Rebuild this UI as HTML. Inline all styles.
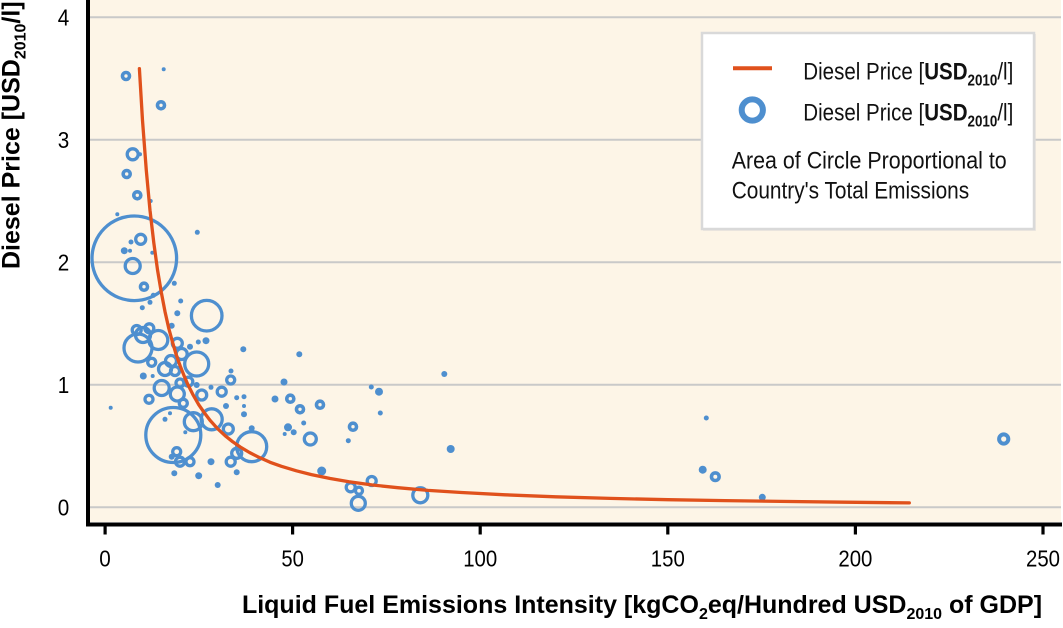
<!DOCTYPE html>
<html>
<head>
<meta charset="utf-8">
<style>
  html,body{margin:0;padding:0;background:#ffffff;}
  svg{display:block;}
  text{font-family:"Liberation Sans", sans-serif;}
  .r{fill:none;stroke:#4e8fcf;stroke-width:3.3;}
  .dn{fill:none;stroke:#4e8fcf;stroke-width:3.6;}
  .d{fill:#4e8fcf;}
  .tk{font-size:23px;fill:#000;}
</style>
</head>
<body>
<svg width="1063" height="628" viewBox="0 0 1063 628" xmlns="http://www.w3.org/2000/svg">
  <rect x="90" y="0" width="971" height="522" fill="#fdf5e7"/>
  <g stroke="#c9c9c9" stroke-width="2">
    <line x1="90" y1="17.3" x2="1061" y2="17.3"/>
    <line x1="90" y1="139.8" x2="1061" y2="139.8"/>
    <line x1="90" y1="262.3" x2="1061" y2="262.3"/>
    <line x1="90" y1="384.8" x2="1061" y2="384.8"/>
    <line x1="90" y1="507.3" x2="1061" y2="507.3"/>
  </g>

  <g class="r">
    <circle cx="134.3" cy="258.3" r="42.3"/>
    <circle cx="173.3" cy="435" r="27.5"/>
    <circle cx="206.7" cy="315.7" r="15.3"/>
    <circle cx="251.7" cy="446.7" r="15"/>
    <circle cx="138" cy="348" r="14"/>
    <circle cx="196.7" cy="364" r="12"/>
    <circle cx="211.7" cy="419.3" r="10.5"/>
    <circle cx="158.3" cy="340" r="9.5"/>
    <circle cx="193.3" cy="421.7" r="9"/>
    <circle cx="143" cy="335" r="7.5"/>
    <circle cx="132.7" cy="266" r="7.5"/>
    <circle cx="161.7" cy="388" r="7.5"/>
    <circle cx="177.3" cy="394" r="7"/>
    <circle cx="165" cy="369" r="6.5"/>
    <circle cx="420.3" cy="495.3" r="7.5"/>
    <circle cx="358.3" cy="503.3" r="7"/>
    <circle cx="310.3" cy="439" r="6"/>
    <circle cx="132.7" cy="154.3" r="5.5"/>
    <circle cx="181.7" cy="354" r="5.5"/>
    <circle cx="171" cy="361" r="5.5"/>
    <circle cx="177.3" cy="343.3" r="5"/>
    <circle cx="140.7" cy="239.3" r="5"/>
    <circle cx="136.7" cy="330" r="4.5"/>
    <circle cx="149.3" cy="328.3" r="4.5"/>
    <circle cx="228.3" cy="429" r="5"/>
    <circle cx="236.7" cy="453.3" r="5"/>
    <circle cx="230.7" cy="461.7" r="4.5"/>
    <circle cx="201.7" cy="395" r="5"/>
    <circle cx="221.7" cy="391.7" r="4.5"/>
    <circle cx="188.3" cy="381.7" r="4.5"/>
    <circle cx="149" cy="399.3" r="4"/>
    <circle cx="151.7" cy="362.3" r="4"/>
    <circle cx="175" cy="371" r="4.5"/>
    <circle cx="183.3" cy="403.3" r="4"/>
    <circle cx="180" cy="383" r="4"/>
    <circle cx="176.7" cy="451.7" r="4"/>
    <circle cx="180" cy="461.7" r="4.5"/>
    <circle cx="190" cy="461.7" r="4"/>
    <circle cx="350.7" cy="487.3" r="4.5"/>
    <circle cx="359" cy="490.7" r="3.5"/>
    <circle cx="371.7" cy="481" r="4.5"/>
    <circle cx="230.7" cy="380" r="4"/>
  </g>
  <g class="dn">
    <circle cx="126" cy="76" r="3.5"/>
    <circle cx="161" cy="105.3" r="3.5"/>
    <circle cx="126.7" cy="174" r="3.5"/>
    <circle cx="137.3" cy="195.3" r="3.5"/>
    <circle cx="144" cy="286.7" r="3.5"/>
    <circle cx="290.3" cy="398.7" r="3.5"/>
    <circle cx="300" cy="409.3" r="3.5"/>
    <circle cx="320" cy="404.7" r="3.5"/>
    <circle cx="353" cy="426.7" r="3.5"/>
    <circle cx="715.3" cy="476.7" r="3.8"/>
    <circle cx="1003.7" cy="439" r="4.6" style="stroke-width:4"/>
  </g>
  <g class="d">
    <circle cx="163.7" cy="69.3" r="2"/>
    <circle cx="140" cy="154.3" r="2"/>
    <circle cx="150.7" cy="201" r="2"/>
    <circle cx="117.3" cy="214.3" r="2"/>
    <circle cx="197.3" cy="232.3" r="2.5"/>
    <circle cx="131" cy="242" r="2.5"/>
    <circle cx="124.3" cy="250.7" r="3.5"/>
    <circle cx="130" cy="250.7" r="2"/>
    <circle cx="152.3" cy="252.7" r="2"/>
    <circle cx="174.3" cy="283.3" r="2.5"/>
    <circle cx="153.3" cy="295.3" r="2.5"/>
    <circle cx="150" cy="302.3" r="2.5"/>
    <circle cx="142.3" cy="307.7" r="2.5"/>
    <circle cx="180.7" cy="301" r="2.5"/>
    <circle cx="177.3" cy="313.3" r="3"/>
    <circle cx="171.7" cy="325.7" r="3"/>
    <circle cx="198.3" cy="342" r="2.5"/>
    <circle cx="206" cy="340.7" r="3.5"/>
    <circle cx="190" cy="346.7" r="3"/>
    <circle cx="243.3" cy="349.3" r="3"/>
    <circle cx="143.3" cy="376" r="3.5"/>
    <circle cx="152.7" cy="376" r="2"/>
    <circle cx="196.7" cy="385" r="3"/>
    <circle cx="211" cy="387.3" r="2.5"/>
    <circle cx="231" cy="371" r="2.5"/>
    <circle cx="236.7" cy="397.7" r="2.5"/>
    <circle cx="244" cy="396.7" r="2.5"/>
    <circle cx="244" cy="406" r="2"/>
    <circle cx="244" cy="414.3" r="3"/>
    <circle cx="226" cy="406" r="3"/>
    <circle cx="110.7" cy="407.7" r="2"/>
    <circle cx="170" cy="413.3" r="2"/>
    <circle cx="165" cy="419.3" r="2.5"/>
    <circle cx="185.3" cy="432.3" r="2"/>
    <circle cx="251.7" cy="428.3" r="3"/>
    <circle cx="236.7" cy="472.3" r="3"/>
    <circle cx="211" cy="461.7" r="3.5"/>
    <circle cx="198.7" cy="475.7" r="3.5"/>
    <circle cx="217.7" cy="485" r="3"/>
    <circle cx="174.3" cy="473.3" r="3"/>
    <circle cx="171.7" cy="456.7" r="3"/>
    <circle cx="299.3" cy="354.3" r="3"/>
    <circle cx="444.3" cy="374" r="3"/>
    <circle cx="284" cy="382" r="3.5"/>
    <circle cx="371.3" cy="387" r="2.5"/>
    <circle cx="379" cy="391.7" r="4"/>
    <circle cx="275" cy="399" r="3.5"/>
    <circle cx="380.3" cy="413" r="2.5"/>
    <circle cx="288" cy="427.3" r="4"/>
    <circle cx="284.7" cy="434" r="2"/>
    <circle cx="293.7" cy="432.3" r="3"/>
    <circle cx="303.7" cy="423" r="2.5"/>
    <circle cx="348.3" cy="440.7" r="2.5"/>
    <circle cx="450.7" cy="449" r="4"/>
    <circle cx="321.7" cy="471" r="4.5"/>
    <circle cx="706.3" cy="418" r="2.5"/>
    <circle cx="702.7" cy="469.7" r="4"/>
    <circle cx="762.3" cy="497.3" r="3.5"/>
  </g>

  <polyline fill="none" stroke="#e0511c" stroke-width="3.3" stroke-linejoin="round" stroke-linecap="round"
    points="139.4,68.7 142.5,120.4 146.3,170.4 150.0,210.3 153.8,242.8 157.5,269.8 161.3,292.3 165.0,311.6 168.8,328.5 172.6,342.4 176.3,355.0 180.1,365.7 183.9,375.3 187.6,384.0 193.2,395.1 198.8,404.8 204.5,413.0 210.1,420.4 217.6,428.7 225.1,435.7 232.6,441.7 240.1,446.9 249.5,452.5 258.9,457.3 270.1,462.3 281.4,466.3 296.4,470.8 311.4,474.6 330.2,478.5 349.0,481.7 372.5,485.0 397.7,487.7 428.0,490.4 461.5,492.5 505.0,494.8 555.4,496.8 610.0,498.4 668.0,499.7 725.0,500.6 780.5,501.4 845.0,502.2 909.3,502.9"/>

  <rect x="86" y="0" width="4" height="526.5" fill="#000"/>
  <rect x="86" y="522.5" width="976" height="4" fill="#000"/>
  <g fill="#000">
    <rect x="103.5" y="526" width="3.2" height="8.5"/>
    <rect x="291" y="526" width="3.2" height="8.5"/>
    <rect x="478.6" y="526" width="3.2" height="8.5"/>
    <rect x="666.2" y="526" width="3.2" height="8.5"/>
    <rect x="853.8" y="526" width="3.2" height="8.5"/>
    <rect x="1041.4" y="526" width="3.2" height="8.5"/>
  </g>

  <g class="tk" text-anchor="middle">
    <text x="105" y="566.5" textLength="11.5" lengthAdjust="spacingAndGlyphs">0</text>
    <text x="292.6" y="566.5" textLength="22.5" lengthAdjust="spacingAndGlyphs">50</text>
    <text x="480.2" y="566.5" textLength="34" lengthAdjust="spacingAndGlyphs">100</text>
    <text x="667.8" y="566.5" textLength="34" lengthAdjust="spacingAndGlyphs">150</text>
    <text x="855.4" y="566.5" textLength="34" lengthAdjust="spacingAndGlyphs">200</text>
    <text x="1043" y="566.5" textLength="34" lengthAdjust="spacingAndGlyphs">250</text>
  </g>
  <g class="tk" text-anchor="middle">
    <text x="63.5" y="515.5" textLength="11.5" lengthAdjust="spacingAndGlyphs">0</text>
    <text x="63.5" y="393" textLength="11.5" lengthAdjust="spacingAndGlyphs">1</text>
    <text x="63.5" y="270.5" textLength="11.5" lengthAdjust="spacingAndGlyphs">2</text>
    <text x="63.5" y="148" textLength="11.5" lengthAdjust="spacingAndGlyphs">3</text>
    <text x="63.5" y="25.5" textLength="11.5" lengthAdjust="spacingAndGlyphs">4</text>
  </g>

  <text x="642" y="613" text-anchor="middle" font-size="25" font-weight="bold" fill="#000">Liquid Fuel Emissions Intensity [kgCO<tspan font-size="16" dy="6">2</tspan><tspan dy="-6">eq/Hundred USD</tspan><tspan font-size="16" dy="6">2010</tspan><tspan dy="-6"> of GDP]</tspan></text>

  <text transform="translate(19.5,269) rotate(-90)" x="0" y="0" font-size="25" font-weight="bold" fill="#000">Diesel Price [USD<tspan font-size="16" dy="6">2010</tspan><tspan dy="-6">/l]</tspan></text>

  <rect x="703" y="34" width="333" height="197" fill="#e4e0da" opacity="0.6"/>
  <rect x="702" y="33" width="332" height="196" fill="#ffffff" stroke="#d9d9d9" stroke-width="2.5"/>
  <line x1="733" y1="68.3" x2="772" y2="68.3" stroke="#e0511c" stroke-width="4"/>
  <circle cx="752.3" cy="110" r="10.6" fill="none" stroke="#4e8fcf" stroke-width="6"/>
  <text x="803.3" y="79.3" font-size="24.5" fill="#111" textLength="210" lengthAdjust="spacingAndGlyphs">Diesel Price [<tspan font-weight="bold">USD</tspan><tspan font-weight="bold" font-size="16" dy="6">2010</tspan><tspan dy="-6">/l]</tspan></text>
  <text x="803.3" y="120.5" font-size="24.5" fill="#111" textLength="210" lengthAdjust="spacingAndGlyphs">Diesel Price [<tspan font-weight="bold">USD</tspan><tspan font-weight="bold" font-size="16" dy="6">2010</tspan><tspan dy="-6">/l]</tspan></text>
  <text x="731.7" y="168.3" font-size="24.5" fill="#111" textLength="275" lengthAdjust="spacingAndGlyphs">Area of Circle Proportional to</text>
  <text x="731.7" y="198.3" font-size="24.5" fill="#111" textLength="237.5" lengthAdjust="spacingAndGlyphs">Country's Total Emissions</text>
</svg>
</body>
</html>
